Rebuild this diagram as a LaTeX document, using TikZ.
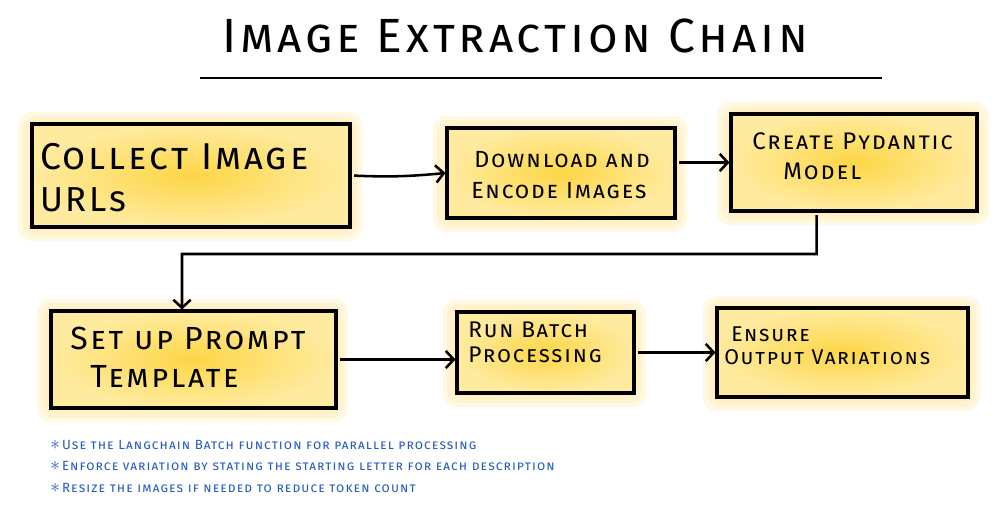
\documentclass[tikz,border=0pt]{standalone}
\usepackage{fontspec}
\usetikzlibrary{arrows.meta,calc,fit}
\newfontfamily\hand{Fira Sans}[LetterSpace=8]
\definecolor{washin}{HTML}{FDD646}
\definecolor{washout}{HTML}{FFEBA0}
\definecolor{halocol}{HTML}{FFEDB0}
\definecolor{noteblue}{HTML}{2459C0}
\tikzset{
  box/.style={draw=black, line width=2.3pt, inner sep=0pt, inner color=washin, outer color=washout},
  halo/.style={fill=halocol, fill opacity=0.35, rounded corners=10pt},
  conn/.style={draw=black, line width=1.9pt, shorten <=2pt, -{Straight Barb[length=6pt,width=13pt,line width=1.9pt]}},
  lbl/.style={anchor=base west, inner sep=0pt, font=\hand\scshape},
  note/.style={anchor=base west, inner sep=0pt, text=noteblue, font=\hand\scshape\fontsize{10}{12}\selectfont},
}
\newcommand\washbox[3]{%
  \fill[halo] ($(#2)+(-14,-12)$) rectangle ($(#3)+(12,14)$);
  \fill[halo] ($(#2)+(-10,-8)$) rectangle ($(#3)+(8,10)$);
  \fill[halo] ($(#2)+(-6,-5)$) rectangle ($(#3)+(5,6)$);
  \node[box, fit={(#2) (#3)}] (#1) {};}
\begin{document}
\begin{tikzpicture}[x=0.75pt, y=-0.75pt]
\useasboundingbox[fill=white] (0,0) rectangle (1000,516);

% title
\node[lbl, font=\hand\scshape\fontsize{36}{40}\selectfont] (title) at (222,53) {Image Extraction Chain};
\coordinate (r1) at (200,78);
\coordinate (r2) at (882,78);
\draw[line width=1.1pt] (r1) -- (r2);

% boxes
\washbox{b1}{32,124}{350,227}
\washbox{b2}{447,128}{675,218}
\washbox{b3}{731,114}{977,211}
\washbox{b4}{51,311}{336,408}
\washbox{b5}{457,312}{634,393}
\washbox{b6}{717,308}{968,397}

% labels
\node[lbl, font=\hand\scshape\fontsize{28}{30}\selectfont] (t1a) at (40,170) {Collect Image};
\node[lbl, font=\hand\scshape\fontsize{26}{30}\selectfont] (t1b) at (40,212) {URLs};
\node[lbl, font=\hand\scshape\fontsize{17.5}{20}\selectfont] (t2a) at (474,168) {Download and};
\node[lbl, font=\hand\scshape\fontsize{17.5}{20}\selectfont] (t2b) at (471,199) {Encode Images};
\node[lbl, font=\hand\scshape\fontsize{18}{21}\selectfont] (t3a) at (752,150) {Create Pydantic};
\node[lbl, font=\hand\scshape\fontsize{18}{21}\selectfont] (t3b) at (783,180) {Model};
\node[lbl, font=\hand\scshape\fontsize{24}{26}\selectfont] (t4a) at (70,350) {Set up Prompt};
\node[lbl, font=\hand\scshape\fontsize{24}{26}\selectfont] (t4b) at (90,388) {Template};
\node[lbl, font=\hand\scshape\fontsize{17}{19}\selectfont] (t5a) at (468,338) {Run Batch};
\node[lbl, font=\hand\scshape\fontsize{17}{19}\selectfont] (t5b) at (468,363) {Processing};
\node[lbl, font=\hand\scshape\fontsize{16}{19}\selectfont] (t6a) at (731,342) {Ensure};
\node[lbl, font=\hand\scshape\fontsize{16}{19}\selectfont] (t6b) at (724,365) {Output Variations};

% connectors
\draw[conn] (b1.east) to[bend right=4] (b2.west);
\draw[conn] (b3.west -| b2.east) -- (b3.west);
\coordinate (c1) at (182,254);
\draw[conn] ($(b3.south west)!0.35!(b3.south east)$) |- (c1) -- ($(b4.north west)!0.46!(b4.north east)$);
\draw[conn] (b4.east) -- (b4.east -| b5.west);
\draw[conn] (b5.east) -- (b5.east -| b6.west);

% notes
\node[note] (n1) at (50,450) {{\normalfont\Large$\ast$}\,Use the Langchain Batch function for parallel processing};
\node[note] (n2) at (50,471) {{\normalfont\Large$\ast$}\,Enforce variation by stating the starting letter for each description};
\node[note] (n3) at (50,493) {{\normalfont\Large$\ast$}\,Resize the images if needed to reduce token count};
\end{tikzpicture}
\end{document}
